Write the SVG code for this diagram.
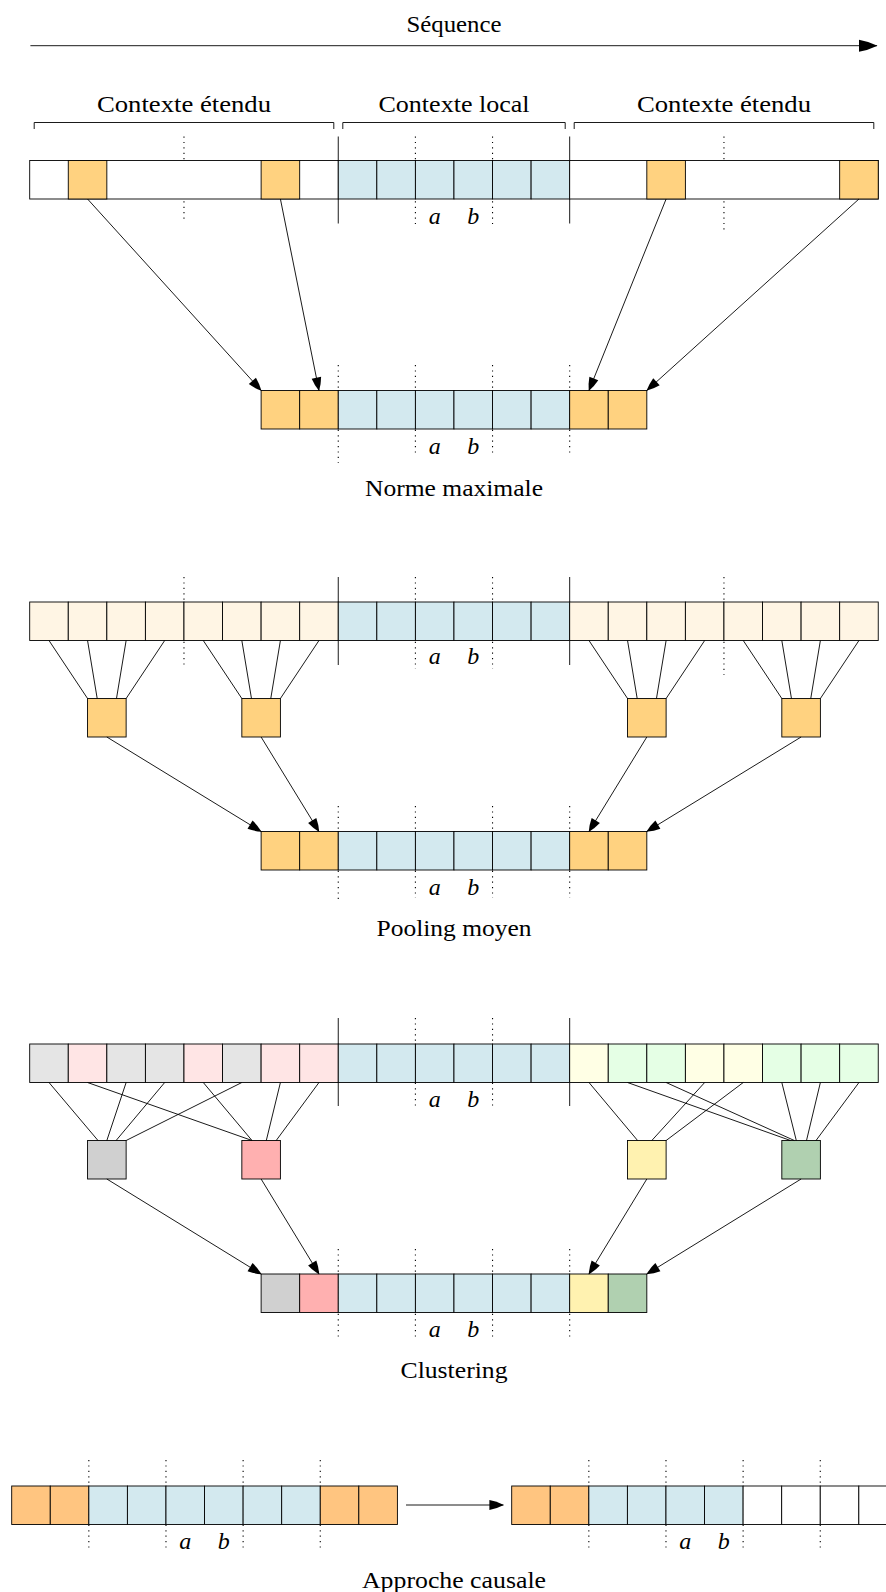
<svg xmlns="http://www.w3.org/2000/svg" width="886" height="1592" viewBox="0 0 886 1592">
  <style>
    rect { stroke: #000; stroke-width: 0.9; }
    .w { fill: #ffffff; }
    .bl { fill: #d3e9ef; }
    .or { fill: #ffd280; }
    .or2 { fill: #ffc580; }
    .cr { fill: #fff5e4; }
    .gy { fill: #e5e5e5; }
    .pk { fill: #ffe5e5; }
    .yl { fill: #ffffe5; }
    .gn { fill: #e5ffe5; }
    .GY { fill: #d0d0d0; }
    .PK { fill: #ffb0b0; }
    .YL { fill: #fff2b0; }
    .GN { fill: #b0d0b0; }
    .dot { stroke: #000; stroke-width: 1.1; stroke-dasharray: 1.2 4.2; fill: none; }
    .sol { stroke: #000; stroke-width: 0.9; fill: none; }
    .ln { stroke: #000; stroke-width: 0.9; fill: none; }
    .arr { stroke: #000; stroke-width: 0.9; fill: none; marker-end: url(#ah); }
    text { font-family: "Liberation Serif", "Times New Roman", serif; font-size: 24px; fill: #000; text-anchor: middle; }
    text.v { font-style: italic; }
  </style>
  <defs>
    <marker id="ah" markerUnits="userSpaceOnUse" markerWidth="14" markerHeight="11" viewBox="-13.5 -5.5 14 11" refX="0" refY="0" orient="auto" overflow="visible">
      <path d="M0.5,0 Q-6.5,-3.5 -13,-4.8 L-13,4.8 Q-6.5,3.5 0.5,0Z" fill="#000"/>
    </marker>
    <marker id="ahBig" markerUnits="userSpaceOnUse" markerWidth="19" markerHeight="13" viewBox="-18.5 -6.5 19 13" refX="0" refY="0" orient="auto" overflow="visible">
      <path d="M0.5,0 Q-9,-4.5 -18,-6 L-18,6 Q-9,4.5 0.5,0Z" fill="#000"/>
    </marker>
    <marker id="ahMid" markerUnits="userSpaceOnUse" markerWidth="15" markerHeight="11" viewBox="-14.5 -5.5 15 11" refX="0" refY="0" orient="auto" overflow="visible">
      <path d="M0.5,0 Q-7,-3.8 -14,-5 L-14,5 Q-7,3.8 0.5,0Z" fill="#000"/>
    </marker>
  </defs>

  <!-- Sequence axis -->
  <g id="axis">
    <text x="454" y="32" textLength="95" lengthAdjust="spacingAndGlyphs">Séquence</text>
    <line x1="30.4" y1="45.7" x2="877" y2="45.7" stroke="#000" stroke-width="0.9" marker-end="url(#ahBig)"/>
  </g>

  <!-- Context brackets -->
  <g id="brackets" fill="none" stroke="#000" stroke-width="0.9">
    <path d="M34.2,129 V122.5 H333.8 V129"/>
    <path d="M342.8,129 V122.5 H565.2 V129"/>
    <path d="M574.2,129 V122.5 H873.8 V129"/>
    <text x="184" y="111.5" textLength="174" lengthAdjust="spacingAndGlyphs" stroke="none">Contexte étendu</text>
    <text x="454" y="111.5" textLength="151" lengthAdjust="spacingAndGlyphs" stroke="none">Contexte local</text>
    <text x="724" y="111.5" textLength="174" lengthAdjust="spacingAndGlyphs" stroke="none">Contexte étendu</text>
  </g>

  <!-- ===== Section 1 : max norm ===== -->
  <g id="s1-guides">
    <line class="dot" x1="183.98" y1="136.5" x2="183.98" y2="222.5"/>
    <line class="dot" x1="415.4" y1="136.5" x2="415.4" y2="224.5"/>
    <line class="dot" x1="492.54" y1="136.5" x2="492.54" y2="224.5"/>
    <line class="dot" x1="723.96" y1="136.5" x2="723.96" y2="231"/>
    <line class="sol" x1="338.26" y1="136.5" x2="338.26" y2="223.5"/>
    <line class="sol" x1="569.68" y1="136.5" x2="569.68" y2="223.5"/>
    <line class="dot" x1="338.26" y1="365" x2="338.26" y2="463"/>
    <line class="dot" x1="415.4" y1="365" x2="415.4" y2="454"/>
    <line class="dot" x1="492.54" y1="365" x2="492.54" y2="454"/>
    <line class="dot" x1="569.68" y1="365" x2="569.68" y2="454"/>
  </g>

  <g id="s1-input">
    <rect class="w" x="29.7" y="160.5" width="308.56" height="38.5"/>
    <rect class="or" x="68.27" y="160.5" width="38.57" height="38.5"/>
    <rect class="or" x="261.12" y="160.5" width="38.57" height="38.5"/>
    <rect class="bl" x="338.26" y="160.5" width="38.57" height="38.5"/>
    <rect class="bl" x="376.83" y="160.5" width="38.57" height="38.5"/>
    <rect class="bl" x="415.4" y="160.5" width="38.57" height="38.5"/>
    <rect class="bl" x="453.97" y="160.5" width="38.57" height="38.5"/>
    <rect class="bl" x="492.54" y="160.5" width="38.57" height="38.5"/>
    <rect class="bl" x="531.11" y="160.5" width="38.57" height="38.5"/>
    <rect class="w" x="569.68" y="160.5" width="308.56" height="38.5"/>
    <rect class="or" x="646.82" y="160.5" width="38.57" height="38.5"/>
    <rect class="or" x="839.67" y="160.5" width="38.57" height="38.5"/>
    <text class="v" x="434.69" y="223.5">a</text>
    <text class="v" x="473.26" y="223.5">b</text>
  </g>

  <g id="s1-output">
    <rect class="or" x="261.12" y="390.5" width="38.57" height="38.5"/>
    <rect class="or" x="299.69" y="390.5" width="38.57" height="38.5"/>
    <rect class="bl" x="338.26" y="390.5" width="38.57" height="38.5"/>
    <rect class="bl" x="376.83" y="390.5" width="38.57" height="38.5"/>
    <rect class="bl" x="415.4" y="390.5" width="38.57" height="38.5"/>
    <rect class="bl" x="453.97" y="390.5" width="38.57" height="38.5"/>
    <rect class="bl" x="492.54" y="390.5" width="38.57" height="38.5"/>
    <rect class="bl" x="531.11" y="390.5" width="38.57" height="38.5"/>
    <rect class="or" x="569.68" y="390.5" width="38.57" height="38.5"/>
    <rect class="or" x="608.25" y="390.5" width="38.57" height="38.5"/>
    <text class="v" x="434.69" y="453.5">a</text>
    <text class="v" x="473.26" y="453.5">b</text>
    <text x="454" y="496" textLength="178" lengthAdjust="spacingAndGlyphs">Norme maximale</text>
  </g>

  <g id="s1-connectors">
    <line class="arr" x1="87.56" y1="199" x2="261.12" y2="390.5"/>
    <line class="arr" x1="280.41" y1="199" x2="318.98" y2="390.5"/>
    <line class="arr" x1="666.11" y1="199" x2="588.97" y2="390.5"/>
    <line class="arr" x1="858.96" y1="199" x2="646.82" y2="390.5"/>
  </g>

  <!-- ===== Section 2 : mean pooling ===== -->
  <g id="s2-guides">
    <line class="dot" x1="183.98" y1="577" x2="183.98" y2="667"/>
    <line class="dot" x1="415.4" y1="577" x2="415.4" y2="669"/>
    <line class="dot" x1="492.54" y1="577" x2="492.54" y2="669"/>
    <line class="dot" x1="723.96" y1="577" x2="723.96" y2="675"/>
    <line class="sol" x1="338.26" y1="577" x2="338.26" y2="665"/>
    <line class="sol" x1="569.68" y1="577" x2="569.68" y2="665"/>
    <line class="dot" x1="338.26" y1="806" x2="338.26" y2="903"/>
    <line class="dot" x1="415.4" y1="806" x2="415.4" y2="898"/>
    <line class="dot" x1="492.54" y1="806" x2="492.54" y2="898"/>
    <line class="dot" x1="569.68" y1="806" x2="569.68" y2="898"/>
  </g>

  <g id="s2-input">
    <rect class="cr" x="29.7" y="602" width="38.57" height="38.5"/>
    <rect class="cr" x="68.27" y="602" width="38.57" height="38.5"/>
    <rect class="cr" x="106.84" y="602" width="38.57" height="38.5"/>
    <rect class="cr" x="145.41" y="602" width="38.57" height="38.5"/>
    <rect class="cr" x="183.98" y="602" width="38.57" height="38.5"/>
    <rect class="cr" x="222.55" y="602" width="38.57" height="38.5"/>
    <rect class="cr" x="261.12" y="602" width="38.57" height="38.5"/>
    <rect class="cr" x="299.69" y="602" width="38.57" height="38.5"/>
    <rect class="bl" x="338.26" y="602" width="38.57" height="38.5"/>
    <rect class="bl" x="376.83" y="602" width="38.57" height="38.5"/>
    <rect class="bl" x="415.4" y="602" width="38.57" height="38.5"/>
    <rect class="bl" x="453.97" y="602" width="38.57" height="38.5"/>
    <rect class="bl" x="492.54" y="602" width="38.57" height="38.5"/>
    <rect class="bl" x="531.11" y="602" width="38.57" height="38.5"/>
    <rect class="cr" x="569.68" y="602" width="38.57" height="38.5"/>
    <rect class="cr" x="608.25" y="602" width="38.57" height="38.5"/>
    <rect class="cr" x="646.82" y="602" width="38.57" height="38.5"/>
    <rect class="cr" x="685.39" y="602" width="38.57" height="38.5"/>
    <rect class="cr" x="723.96" y="602" width="38.57" height="38.5"/>
    <rect class="cr" x="762.53" y="602" width="38.57" height="38.5"/>
    <rect class="cr" x="801.1" y="602" width="38.57" height="38.5"/>
    <rect class="cr" x="839.67" y="602" width="38.57" height="38.5"/>
    <text class="v" x="434.69" y="664">a</text>
    <text class="v" x="473.26" y="664">b</text>
  </g>

  <g id="s2-pool-1"><rect class="or" x="87.56" y="698.5" width="38.57" height="38.5"/></g>
  <g id="s2-pool-2"><rect class="or" x="241.84" y="698.5" width="38.57" height="38.5"/></g>
  <g id="s2-pool-3"><rect class="or" x="627.54" y="698.5" width="38.57" height="38.5"/></g>
  <g id="s2-pool-4"><rect class="or" x="781.82" y="698.5" width="38.57" height="38.5"/></g>

  <g id="s2-output">
    <rect class="or" x="261.12" y="831.5" width="38.57" height="38.5"/>
    <rect class="or" x="299.69" y="831.5" width="38.57" height="38.5"/>
    <rect class="bl" x="338.26" y="831.5" width="38.57" height="38.5"/>
    <rect class="bl" x="376.83" y="831.5" width="38.57" height="38.5"/>
    <rect class="bl" x="415.4" y="831.5" width="38.57" height="38.5"/>
    <rect class="bl" x="453.97" y="831.5" width="38.57" height="38.5"/>
    <rect class="bl" x="492.54" y="831.5" width="38.57" height="38.5"/>
    <rect class="bl" x="531.11" y="831.5" width="38.57" height="38.5"/>
    <rect class="or" x="569.68" y="831.5" width="38.57" height="38.5"/>
    <rect class="or" x="608.25" y="831.5" width="38.57" height="38.5"/>
    <text class="v" x="434.69" y="894.5">a</text>
    <text class="v" x="473.26" y="894.5">b</text>
    <text x="454" y="935.5" textLength="155" lengthAdjust="spacingAndGlyphs">Pooling moyen</text>
  </g>

  <g id="s2-connectors">
    <line class="ln" x1="48.99" y1="640.5" x2="87.56" y2="698.5"/>
    <line class="ln" x1="87.56" y1="640.5" x2="97.2" y2="698.5"/>
    <line class="ln" x1="126.13" y1="640.5" x2="116.49" y2="698.5"/>
    <line class="ln" x1="164.7" y1="640.5" x2="126.13" y2="698.5"/>
    <line class="ln" x1="203.27" y1="640.5" x2="241.84" y2="698.5"/>
    <line class="ln" x1="241.84" y1="640.5" x2="251.48" y2="698.5"/>
    <line class="ln" x1="280.41" y1="640.5" x2="270.77" y2="698.5"/>
    <line class="ln" x1="318.98" y1="640.5" x2="280.41" y2="698.5"/>
    <line class="ln" x1="588.97" y1="640.5" x2="627.54" y2="698.5"/>
    <line class="ln" x1="627.54" y1="640.5" x2="637.18" y2="698.5"/>
    <line class="ln" x1="666.11" y1="640.5" x2="656.47" y2="698.5"/>
    <line class="ln" x1="704.68" y1="640.5" x2="666.11" y2="698.5"/>
    <line class="ln" x1="743.25" y1="640.5" x2="781.82" y2="698.5"/>
    <line class="ln" x1="781.82" y1="640.5" x2="791.46" y2="698.5"/>
    <line class="ln" x1="820.39" y1="640.5" x2="810.75" y2="698.5"/>
    <line class="ln" x1="858.96" y1="640.5" x2="820.39" y2="698.5"/>
    <line class="arr" x1="106.84" y1="737" x2="261.12" y2="831.5"/>
    <line class="arr" x1="261.12" y1="737" x2="318.98" y2="831.5"/>
    <line class="arr" x1="646.82" y1="737" x2="588.97" y2="831.5"/>
    <line class="arr" x1="801.1" y1="737" x2="646.82" y2="831.5"/>
  </g>

  <!-- ===== Section 3 : clustering ===== -->
  <g id="s3-guides">
    <line class="dot" x1="415.4" y1="1018" x2="415.4" y2="1109"/>
    <line class="dot" x1="492.54" y1="1018" x2="492.54" y2="1109"/>
    <line class="sol" x1="338.26" y1="1018" x2="338.26" y2="1106"/>
    <line class="sol" x1="569.68" y1="1018" x2="569.68" y2="1106"/>
    <line class="dot" x1="338.26" y1="1249" x2="338.26" y2="1340"/>
    <line class="dot" x1="415.4" y1="1249" x2="415.4" y2="1340"/>
    <line class="dot" x1="492.54" y1="1249" x2="492.54" y2="1340"/>
    <line class="dot" x1="569.68" y1="1249" x2="569.68" y2="1340"/>
  </g>

  <g id="s3-input">
    <rect class="gy" x="29.7" y="1044" width="38.57" height="38.5"/>
    <rect class="pk" x="68.27" y="1044" width="38.57" height="38.5"/>
    <rect class="gy" x="106.84" y="1044" width="38.57" height="38.5"/>
    <rect class="gy" x="145.41" y="1044" width="38.57" height="38.5"/>
    <rect class="pk" x="183.98" y="1044" width="38.57" height="38.5"/>
    <rect class="gy" x="222.55" y="1044" width="38.57" height="38.5"/>
    <rect class="pk" x="261.12" y="1044" width="38.57" height="38.5"/>
    <rect class="pk" x="299.69" y="1044" width="38.57" height="38.5"/>
    <rect class="bl" x="338.26" y="1044" width="38.57" height="38.5"/>
    <rect class="bl" x="376.83" y="1044" width="38.57" height="38.5"/>
    <rect class="bl" x="415.4" y="1044" width="38.57" height="38.5"/>
    <rect class="bl" x="453.97" y="1044" width="38.57" height="38.5"/>
    <rect class="bl" x="492.54" y="1044" width="38.57" height="38.5"/>
    <rect class="bl" x="531.11" y="1044" width="38.57" height="38.5"/>
    <rect class="yl" x="569.68" y="1044" width="38.57" height="38.5"/>
    <rect class="gn" x="608.25" y="1044" width="38.57" height="38.5"/>
    <rect class="gn" x="646.82" y="1044" width="38.57" height="38.5"/>
    <rect class="yl" x="685.39" y="1044" width="38.57" height="38.5"/>
    <rect class="yl" x="723.96" y="1044" width="38.57" height="38.5"/>
    <rect class="gn" x="762.53" y="1044" width="38.57" height="38.5"/>
    <rect class="gn" x="801.1" y="1044" width="38.57" height="38.5"/>
    <rect class="gn" x="839.67" y="1044" width="38.57" height="38.5"/>
    <text class="v" x="434.69" y="1107">a</text>
    <text class="v" x="473.26" y="1107">b</text>
  </g>

  <g id="s3-cluster-grey"><rect class="GY" x="87.56" y="1140.5" width="38.57" height="38.5"/></g>
  <g id="s3-cluster-pink"><rect class="PK" x="241.84" y="1140.5" width="38.57" height="38.5"/></g>
  <g id="s3-cluster-yellow"><rect class="YL" x="627.54" y="1140.5" width="38.57" height="38.5"/></g>
  <g id="s3-cluster-green"><rect class="GN" x="781.82" y="1140.5" width="38.57" height="38.5"/></g>

  <g id="s3-output">
    <rect class="GY" x="261.12" y="1274" width="38.57" height="38.5"/>
    <rect class="PK" x="299.69" y="1274" width="38.57" height="38.5"/>
    <rect class="bl" x="338.26" y="1274" width="38.57" height="38.5"/>
    <rect class="bl" x="376.83" y="1274" width="38.57" height="38.5"/>
    <rect class="bl" x="415.4" y="1274" width="38.57" height="38.5"/>
    <rect class="bl" x="453.97" y="1274" width="38.57" height="38.5"/>
    <rect class="bl" x="492.54" y="1274" width="38.57" height="38.5"/>
    <rect class="bl" x="531.11" y="1274" width="38.57" height="38.5"/>
    <rect class="YL" x="569.68" y="1274" width="38.57" height="38.5"/>
    <rect class="GN" x="608.25" y="1274" width="38.57" height="38.5"/>
    <text class="v" x="434.69" y="1337">a</text>
    <text class="v" x="473.26" y="1337">b</text>
    <text x="454" y="1378" textLength="107" lengthAdjust="spacingAndGlyphs">Clustering</text>
  </g>

  <g id="s3-connectors">
    <line class="ln" x1="48.99" y1="1082.5" x2="98" y2="1140.5"/>
    <line class="ln" x1="126.13" y1="1082.5" x2="106.84" y2="1140.5"/>
    <line class="ln" x1="164.7" y1="1082.5" x2="116.1" y2="1140.5"/>
    <line class="ln" x1="241.84" y1="1082.5" x2="126.13" y2="1140.5"/>
    <line class="ln" x1="87.56" y1="1082.5" x2="252" y2="1140.5"/>
    <line class="ln" x1="203.27" y1="1082.5" x2="252" y2="1140.5"/>
    <line class="ln" x1="280.41" y1="1082.5" x2="266.3" y2="1140.5"/>
    <line class="ln" x1="318.98" y1="1082.5" x2="276.2" y2="1140.5"/>
    <line class="ln" x1="588.97" y1="1082.5" x2="637.6" y2="1140.5"/>
    <line class="ln" x1="704.68" y1="1082.5" x2="651.8" y2="1140.5"/>
    <line class="ln" x1="743.25" y1="1082.5" x2="666.11" y2="1140.5"/>
    <line class="ln" x1="627.54" y1="1082.5" x2="790.5" y2="1140.5"/>
    <line class="ln" x1="666.11" y1="1082.5" x2="794.3" y2="1140.5"/>
    <line class="ln" x1="781.82" y1="1082.5" x2="796.3" y2="1140.5"/>
    <line class="ln" x1="820.39" y1="1082.5" x2="806.5" y2="1140.5"/>
    <line class="ln" x1="858.96" y1="1082.5" x2="816" y2="1140.5"/>
    <line class="arr" x1="106.84" y1="1179" x2="261.12" y2="1274"/>
    <line class="arr" x1="261.12" y1="1179" x2="318.98" y2="1274"/>
    <line class="arr" x1="646.82" y1="1179" x2="588.97" y2="1274"/>
    <line class="arr" x1="801.1" y1="1179" x2="646.82" y2="1274"/>
  </g>

  <!-- ===== Section 4 : causal approach ===== -->
  <g id="s4-guides">
    <line class="dot" x1="88.84" y1="1460" x2="88.84" y2="1548.5"/>
    <line class="dot" x1="165.98" y1="1460" x2="165.98" y2="1548.5"/>
    <line class="dot" x1="243.12" y1="1460" x2="243.12" y2="1548.5"/>
    <line class="dot" x1="320.26" y1="1460" x2="320.26" y2="1548.5"/>
    <line class="dot" x1="588.84" y1="1460" x2="588.84" y2="1548.5"/>
    <line class="dot" x1="665.98" y1="1460" x2="665.98" y2="1548.5"/>
    <line class="dot" x1="743.12" y1="1460" x2="743.12" y2="1548.5"/>
    <line class="dot" x1="820.26" y1="1460" x2="820.26" y2="1548.5"/>
  </g>

  <g id="s4-centered">
    <rect class="or2" x="11.7" y="1486" width="38.57" height="38.5"/>
    <rect class="or2" x="50.27" y="1486" width="38.57" height="38.5"/>
    <rect class="bl" x="88.84" y="1486" width="38.57" height="38.5"/>
    <rect class="bl" x="127.41" y="1486" width="38.57" height="38.5"/>
    <rect class="bl" x="165.98" y="1486" width="38.57" height="38.5"/>
    <rect class="bl" x="204.55" y="1486" width="38.57" height="38.5"/>
    <rect class="bl" x="243.12" y="1486" width="38.57" height="38.5"/>
    <rect class="bl" x="281.69" y="1486" width="38.57" height="38.5"/>
    <rect class="or2" x="320.26" y="1486" width="38.57" height="38.5"/>
    <rect class="or2" x="358.83" y="1486" width="38.57" height="38.5"/>
    <text class="v" x="185.27" y="1549">a</text>
    <text class="v" x="223.84" y="1549">b</text>
  </g>

  <g id="s4-causal">
    <rect class="or2" x="511.7" y="1486" width="38.57" height="38.5"/>
    <rect class="or2" x="550.27" y="1486" width="38.57" height="38.5"/>
    <rect class="bl" x="588.84" y="1486" width="38.57" height="38.5"/>
    <rect class="bl" x="627.41" y="1486" width="38.57" height="38.5"/>
    <rect class="bl" x="665.98" y="1486" width="38.57" height="38.5"/>
    <rect class="bl" x="704.55" y="1486" width="38.57" height="38.5"/>
    <rect class="w" x="743.12" y="1486" width="38.57" height="38.5"/>
    <rect class="w" x="781.69" y="1486" width="38.57" height="38.5"/>
    <rect class="w" x="820.26" y="1486" width="38.57" height="38.5"/>
    <rect class="w" x="858.83" y="1486" width="38.57" height="38.5"/>
    <text class="v" x="685.27" y="1549">a</text>
    <text class="v" x="723.84" y="1549">b</text>
  </g>

  <g id="s4-connectors">
    <line x1="406" y1="1505" x2="503.4" y2="1505" stroke="#000" stroke-width="0.9" marker-end="url(#ahMid)"/>
  </g>

  <text x="454" y="1588" textLength="184" lengthAdjust="spacingAndGlyphs">Approche causale</text>
</svg>
